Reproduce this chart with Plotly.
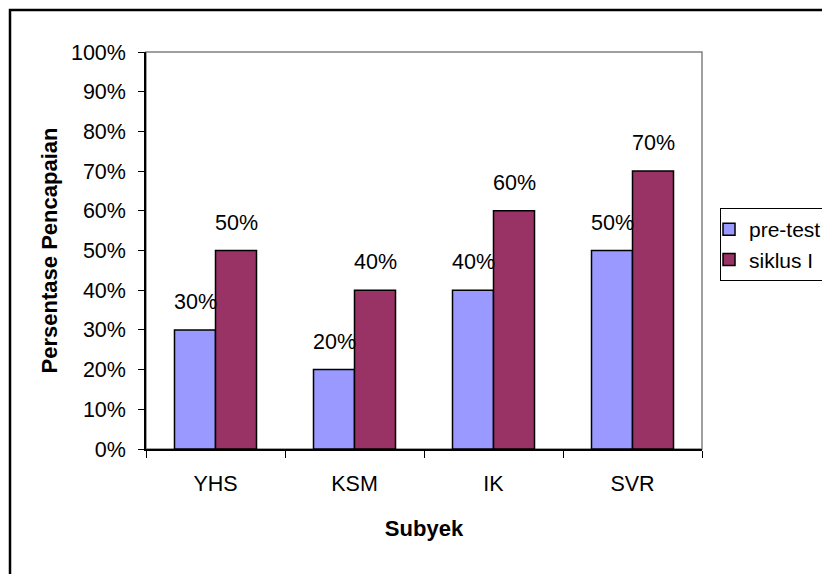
import plotly.graph_objects as go

# Achievement per subject, before and after the first cycle
subjects = ["YHS", "KSM", "IK", "SVR"]
pre_test = [0.30, 0.20, 0.40, 0.50]
siklus_1 = [0.50, 0.40, 0.60, 0.70]
series_names = ["pre-test", "siklus I"]
y_ticks = [0.0, 0.1, 0.2, 0.3, 0.4, 0.5, 0.6, 0.7, 0.8, 0.9, 1.0]

FONT = "Liberation Sans, Arial, sans-serif"
SIZE = 21.5

fig = go.Figure()
fig.add_trace(go.Bar(
    name=series_names[0], x=subjects, y=pre_test,
    marker=dict(color="#9999FF", line=dict(color="#000000", width=1.5)),
))
fig.add_trace(go.Bar(
    name=series_names[1], x=subjects, y=siklus_1,
    marker=dict(color="#993366", line=dict(color="#000000", width=1.5)),
))

# value labels floating above each bar
for vals, dx in ((pre_test, -20.5), (siklus_1, 20.5)):
    for s, v in zip(subjects, vals):
        fig.add_annotation(
            x=s, y=v, text=f"{round(v * 100)}%", showarrow=False,
            xshift=dx, yshift=28, yanchor="middle",
            font=dict(family=FONT, size=SIZE, color="#000000"),
        )

# plot-area frame (grey) and outer chart border
fig.add_shape(type="rect", xref="paper", yref="paper", x0=0, x1=1, y0=0, y1=1,
              line=dict(color="#808080", width=1.5), layer="below")
fig.add_shape(type="rect", xref="paper", yref="paper",
              x0=-0.2446, x1=1.24, y0=-0.35, y1=1.1058,
              line=dict(color="#000000", width=2.5), layer="below")

fig.update_layout(
    width=822, height=574,
    margin=dict(l=146, r=120, t=52, b=125, autoexpand=False),
    paper_bgcolor="#FFFFFF", plot_bgcolor="#FFFFFF",
    barmode="group", bargap=0.41, bargroupgap=0,
    font=dict(family=FONT, size=SIZE, color="#000000"),
    showlegend=True,
    legend=dict(
        x=1.0324, y=0.607, xanchor="left", yanchor="top",
        bgcolor="#FFFFFF", bordercolor="#000000", borderwidth=1,
        font=dict(family=FONT, size=21, color="#000000"),
        indentation=-12,
    ),
    xaxis=dict(
        showline=True, linecolor="#000000", linewidth=1.5,
        ticks="outside", tickson="boundaries", ticklen=7, tickcolor="#000000",
        tickfont=dict(family=FONT, size=SIZE), ticklabelstandoff=14,
        title=dict(text="<b>Subyek</b>", font=dict(family=FONT, size=22), standoff=26),
        showgrid=False,
    ),
    yaxis=dict(
        range=[0, 1], tickvals=y_ticks, tickformat=".0%",
        showline=True, linecolor="#000000", linewidth=1.5,
        ticks="outside", ticklen=6, tickcolor="#000000",
        tickfont=dict(family=FONT, size=SIZE), ticklabelstandoff=8,
        title=dict(text="<b>Persentase Pencapaian</b>", font=dict(family=FONT, size=22), standoff=7),
        showgrid=False, zeroline=False,
    ),
)

fig.write_html("out.html")
